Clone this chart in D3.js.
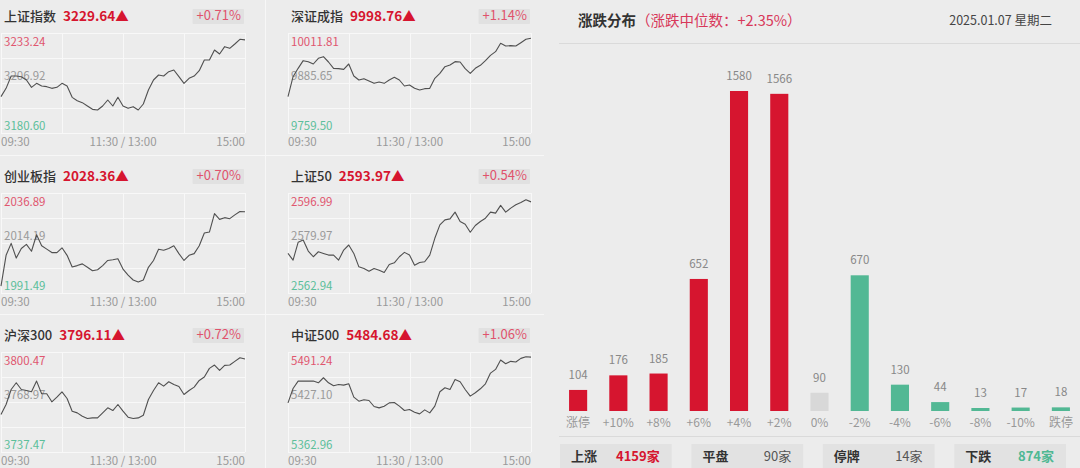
<!DOCTYPE html>
<html lang="zh">
<head>
<meta charset="UTF-8">
<title>大盘指数与涨跌分布</title>
<script src="https://d3js.org/d3.v7.min.js"></script>
<style>
  html, body { margin: 0; padding: 0; background: #ececec; }
  svg { display: block; font-family: "Noto Sans CJK SC", "Noto Sans", sans-serif; }
</style>
</head>
<body>
<svg id="chart" width="1080" height="468"></svg>
<script>
// ---- index panels ----
const indexNames = ["上证指数", "深证成指", "创业板指", "上证50", "沪深300", "中证500"];
const indexClose = ["3229.64", "9998.76", "2028.36", "2593.97", "3796.11", "5484.68"];
const indexPct = ["+0.71%", "+1.14%", "+0.70%", "+0.54%", "+0.72%", "+1.06%"];
const axisHigh = [3233.24, 10011.81, 2036.89, 2596.99, 3800.47, 5491.24];
const axisMid = [3206.92, 9885.65, 2014.19, 2579.97, 3768.97, 5427.10];
const axisLow = [3180.60, 9759.50, 1991.49, 2562.94, 3737.47, 5362.96];
const timeTicks = ["09:30", "11:30 / 13:00", "15:00"];

// intraday values, one point every 5 minutes (09:30 .. 15:00)
const shIndex = [3199.73, 3204.11, 3210.60, 3210.60, 3210.25, 3208.50, 3204.64, 3206.74, 3205.34, 3204.99,
  3204.11, 3204.64, 3206.74, 3205.34, 3199.37, 3197.62, 3196.57, 3194.81, 3193.06, 3192.71,
  3194.81, 3197.97, 3194.81, 3199.37, 3194.81, 3193.58, 3194.46, 3192.71, 3195.87, 3203.23,
  3208.50, 3211.13, 3210.60, 3212.89, 3213.76, 3210.25, 3206.74, 3209.38, 3210.60, 3213.41,
  3219.03, 3219.03, 3224.29, 3222.19, 3226.05, 3225.17, 3227.45, 3229.91, 3229.64];
const szIndex = [9851.17, 9901.63, 9922.66, 9942.00, 9939.48, 9933.59, 9947.89, 9952.10, 9938.64, 9922.66,
  9921.82, 9920.14, 9933.59, 9903.32, 9893.22, 9896.59, 9890.70, 9884.81, 9888.18, 9884.81,
  9893.22, 9899.95, 9893.22, 9878.09, 9880.61, 9872.20, 9867.99, 9871.36, 9872.20, 9897.43,
  9910.05, 9926.87, 9931.07, 9939.48, 9938.64, 9921.82, 9910.05, 9922.66, 9930.23, 9942.00,
  9955.46, 9964.71, 9985.74, 9979.01, 9979.85, 9979.01, 9987.42, 9995.83, 9998.76];
const cybIndex = [1994.60, 2008.59, 2014.03, 2007.35, 2011.70, 2013.57, 2010.46, 2017.92, 2012.95, 2011.39,
  2009.84, 2009.84, 2012.01, 2008.59, 2003.31, 2003.93, 2004.71, 2003.15, 2001.60, 2002.06,
  2003.93, 2006.26, 2006.57, 2007.04, 2002.37, 1999.57, 1997.40, 1996.47, 1997.40, 2003.15,
  2006.26, 2011.39, 2010.93, 2011.70, 2012.95, 2009.37, 2006.26, 2008.59, 2009.37, 2012.95,
  2018.70, 2019.17, 2027.56, 2024.92, 2025.70, 2025.23, 2026.94, 2028.49, 2028.36];
const sz50Index = [2576.42, 2574.14, 2580.19, 2580.99, 2577.22, 2575.28, 2576.99, 2576.42, 2575.85, 2575.85,
  2574.14, 2577.57, 2579.28, 2576.42, 2571.85, 2571.28, 2570.37, 2571.28, 2570.71, 2569.91,
  2572.65, 2573.22, 2575.28, 2576.77, 2575.85, 2572.42, 2573.34, 2573.57, 2575.85, 2581.56,
  2586.14, 2587.85, 2588.19, 2590.48, 2587.28, 2586.36, 2583.62, 2585.91, 2587.28, 2588.42,
  2590.48, 2590.13, 2592.76, 2590.48, 2591.85, 2592.99, 2593.79, 2594.70, 2593.97];
const hs300Index = [3761.07, 3767.39, 3776.87, 3781.09, 3776.87, 3776.24, 3775.40, 3782.14, 3774.13, 3774.13,
  3769.08, 3772.03, 3775.40, 3771.18, 3763.18, 3762.12, 3760.02, 3758.54, 3758.96, 3758.96,
  3762.12, 3765.28, 3763.60, 3767.39, 3763.18, 3759.38, 3758.54, 3758.96, 3760.65, 3770.55,
  3776.24, 3781.09, 3778.98, 3781.72, 3780.03, 3778.77, 3773.71, 3776.24, 3778.35, 3782.56,
  3784.67, 3790.15, 3792.25, 3788.88, 3792.04, 3792.25, 3794.57, 3796.89, 3796.11];
const zz500Index = [5426.03, 5444.48, 5453.91, 5453.91, 5453.91, 5453.91, 5451.77, 5458.20, 5451.77, 5447.91,
  5449.62, 5448.77, 5450.48, 5433.32, 5428.17, 5429.89, 5429.03, 5421.31, 5419.59, 5421.74,
  5426.03, 5426.46, 5421.74, 5416.16, 5417.45, 5414.01, 5411.87, 5417.02, 5413.16, 5421.74,
  5440.19, 5445.33, 5443.19, 5456.06, 5453.06, 5443.19, 5434.61, 5438.90, 5444.05, 5450.48,
  5464.21, 5468.93, 5480.94, 5476.22, 5479.23, 5478.37, 5483.09, 5485.23, 5484.68];
const indexSeries = [shIndex, szIndex, cybIndex, sz50Index, hs300Index, zz500Index];

// ---- distribution ----
const distLabels = ["涨停", "+10%", "+8%", "+6%", "+4%", "+2%", "0%", "-2%", "-4%", "-6%", "-8%", "-10%", "跌停"];
const distCounts = [104, 176, 185, 652, 1580, 1566, 90, 670, 130, 44, 13, 17, 18];
const distTitle = "涨跌分布";
const distMedian = "（涨跌中位数：+2.35%）";
const distDate = "2025.01.07 星期二";
const summaryLabels = ["上涨", "平盘", "停牌", "下跌"];
const summaryValues = ["4159家", "90家", "14家", "874家"];

const RED = "#d6152f", GREEN = "#52b894", FLAT = "#d8d8d8";
const svg = d3.select("#chart");

svg.append("rect").attr("width", 1080).attr("height", 468).attr("fill", "#ececec");

// panel separators
const sep = svg.append("g").attr("stroke", "#f7f7f7").attr("stroke-width", 1);
sep.append("line").attr("x1", 265.5).attr("x2", 265.5).attr("y1", 0).attr("y2", 468);
[155.5, 314.5].forEach(y => sep.append("line").attr("x1", 0).attr("x2", 544).attr("y1", y).attr("y2", y));

const rowTop = [33, 193, 352];

indexNames.forEach((name, i) => {
  const col = i % 2, row = Math.floor(i / 2);
  const x0 = col ? 288 : 1, x1 = col ? 531 : 245;
  const y0 = rowTop[row], y1 = y0 + 100;
  const g = svg.append("g");
  const data = indexSeries[i];

  const x = d3.scaleLinear().domain([0, data.length - 1]).range([x0, x1]);
  const y = d3.scaleLinear().domain([axisLow[i], axisHigh[i]]).range([y1, y0]);

  // grid
  const yLines = d3.range(5).map(k => axisLow[i] + k * (axisHigh[i] - axisLow[i]) / 4);
  g.selectAll(".hg").data(yLines).enter().append("line")
    .attr("x1", x0).attr("x2", x1)
    .attr("y1", d => Math.round(y(d)) + 0.5).attr("y2", d => Math.round(y(d)) + 0.5)
    .attr("stroke", "#f8f8f8");
  g.selectAll(".vg").data([0, 12, 24, 36, 48]).enter().append("line")
    .attr("x1", d => Math.round(x(d)) + 0.5).attr("x2", d => Math.round(x(d)) + 0.5)
    .attr("y1", y0).attr("y2", y1)
    .attr("stroke", "#f8f8f8");

  // title row
  const title = g.append("text").attr("x", x0 + 3).attr("y", y0 - 12)
    .attr("font-size", 13).attr("font-weight", 500).attr("fill", "#333").text(name);
  const tw = title.node().getComputedTextLength();
  g.append("text").attr("x", x0 + 3 + tw + 7).attr("y", y0 - 12)
    .attr("font-size", 13.5).attr("font-weight", 700).attr("fill", RED).text(indexClose[i] + "▲");
  const pct = g.append("text").attr("x", x1 - 4).attr("y", y0 - 13)
    .attr("text-anchor", "end").attr("font-size", 13).attr("fill", "#e0526c").text(indexPct[i]);
  const pw = pct.node().getComputedTextLength();
  g.insert("rect", "text:last-child")
    .attr("x", x1 - 4 - pw - 4).attr("y", y0 - 24).attr("width", pw + 7).attr("height", 15)
    .attr("rx", 1).attr("fill", "#e1e1e1");

  // y labels
  g.append("text").attr("x", x0 + 3).attr("y", y0 + 13).attr("font-size", 11.5).attr("fill", "#e0566f").text(axisHigh[i].toFixed(2));
  g.append("text").attr("x", x0 + 3).attr("y", y(axisMid[i]) - 3).attr("font-size", 11.5).attr("fill", "#9a9a9a").text(axisMid[i].toFixed(2));
  g.append("text").attr("x", x0 + 3).attr("y", y1 - 3).attr("font-size", 11.5).attr("fill", "#5cbf9b").text(axisLow[i].toFixed(2));

  // time labels
  const tx = [x0, (x0 + x1) / 2, x1], ta = ["start", "middle", "end"];
  timeTicks.forEach((t, k) => {
    g.append("text").attr("x", tx[k]).attr("y", y1 + 13).attr("text-anchor", ta[k])
      .attr("font-size", 11.5).attr("fill", "#9a9a9a").text(t);
  });

  // price line
  const line = d3.line().x((d, k) => x(k)).y(d => y(d));
  g.append("path").datum(data).attr("fill", "none").attr("stroke", "#505050")
    .attr("stroke-width", 1.1).attr("stroke-linejoin", "round").attr("d", line);
});

// ---- right: distribution ----
const r = svg.append("g");
const head = r.append("text").attr("x", 578).attr("y", 26).attr("font-size", 14.5);
head.append("tspan").attr("font-weight", 700).attr("fill", "#333").text(distTitle);
head.append("tspan").attr("fill", "#d8385a").text(distMedian);
r.append("text").attr("x", 1052).attr("y", 25).attr("text-anchor", "end")
  .attr("font-size", 12.5).attr("fill", "#444").text(distDate);
r.append("line").attr("x1", 559).attr("x2", 1080).attr("y1", 43.5).attr("y2", 43.5).attr("stroke", "#dadada");

const bx = d3.scaleBand().domain(distLabels).range([558, 1081]).paddingInner(0.55).paddingOuter(0.275);
const by = d3.scaleLinear().domain([0, d3.max(distCounts)]).range([411, 91]);
const barColor = (k) => k < 6 ? RED : (k === 6 ? FLAT : GREEN);

r.selectAll(".bar").data(distCounts).enter().append("rect")
  .attr("x", (d, k) => bx(distLabels[k]))
  .attr("width", bx.bandwidth())
  .attr("y", d => Math.min(by(d), 411 - 3))
  .attr("height", d => Math.max(411 - by(d), 3))
  .attr("fill", (d, k) => barColor(k));

r.selectAll(".val").data(distCounts).enter().append("text")
  .attr("x", (d, k) => bx(distLabels[k]) + bx.bandwidth() / 2)
  .attr("y", d => Math.min(by(d), 411 - 3) - 11)
  .attr("text-anchor", "middle").attr("font-size", 11.5).attr("fill", "#888")
  .text(d => d);

r.selectAll(".cat").data(distLabels).enter().append("text")
  .attr("x", d => bx(d) + bx.bandwidth() / 2)
  .attr("y", 427)
  .attr("text-anchor", "middle").attr("font-size", 12).attr("fill", "#999")
  .text(d => d);

r.append("line").attr("x1", 559).attr("x2", 1080).attr("y1", 436.5).attr("y2", 436.5).attr("stroke", "#dadada");

// summary boxes
const sx = d3.scaleBand().domain(summaryLabels).range([560, 1066]).paddingInner(0.15).paddingOuter(0);
const valColor = ["#d6152f", "#555", "#555", "#4fb893"];
const valWeight = [700, 400, 400, 600];
summaryLabels.forEach((lab, k) => {
  const bx0 = sx(lab), bw = sx.bandwidth();
  r.append("rect").attr("x", bx0).attr("y", 444).attr("width", bw).attr("height", 24).attr("fill", "#e2e2e2");
  r.append("text").attr("x", bx0 + 11).attr("y", 461).attr("font-size", 13).attr("font-weight", 700)
    .attr("fill", "#333").text(lab);
  r.append("text").attr("x", bx0 + bw - 12).attr("y", 461).attr("text-anchor", "end")
    .attr("font-size", 13).attr("font-weight", valWeight[k]).attr("fill", valColor[k]).text(summaryValues[k]);
});
</script>
</body>
</html>
